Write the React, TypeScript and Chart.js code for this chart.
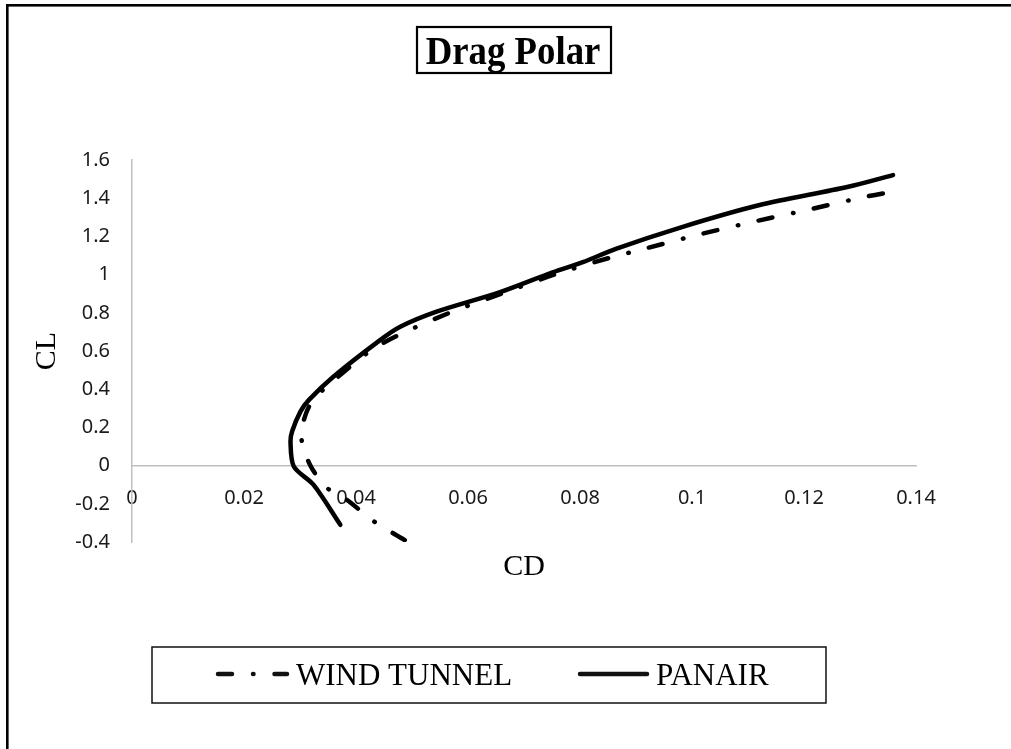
import React, { useEffect, useRef } from "react";
import { Chart, registerables } from "chart.js";
Chart.register(...registerables);

const chartTitle = "Drag Polar";
const xTitle = "CD";
const yTitle = "CL";
const seriesNames = ["WIND TUNNEL", "PANAIR"];

const windCD = [0.0487, 0.0431, 0.0384, 0.0348, 0.0318, 0.0302, 0.031, 0.0324, 0.0362, 0.0425, 0.0473, 0.0567, 0.066, 0.0757, 0.0858, 0.0908, 0.1006, 0.1107, 0.1208, 0.1309, 0.1374];
const windCL = [-0.39, -0.29, -0.18, -0.116, 0.003, 0.153, 0.267, 0.346, 0.45, 0.6, 0.679, 0.8, 0.9, 1.003, 1.092, 1.13, 1.205, 1.275, 1.34, 1.407, 1.442];

const panairCD = [0.0372, 0.0324, 0.0289, 0.0283, 0.0286, 0.0301, 0.0316, 0.0359, 0.0443, 0.0479, 0.0544, 0.0656, 0.0751, 0.0805, 0.0864, 0.0982, 0.1119, 0.1279, 0.1359];
const panairCL = [-0.31, -0.1, -0.005, 0.126, 0.18, 0.284, 0.344, 0.464, 0.657, 0.727, 0.806, 0.907, 1.012, 1.065, 1.135, 1.249, 1.363, 1.46, 1.521];

const xMin = 0, xMax = 0.14, xStep = 0.02;
const yMin = -0.4, yMax = 1.6, yStep = 0.2;

const WIND_DASH = [14, 21, 0.5, 21];
const SERIF = "'Liberation Serif', 'Times New Roman', serif";
const SANS = "'Noto Sans', 'Open Sans', sans-serif";

const decorations = {
  id: "decorations",
  afterDraw(chart: any) {
    const ctx = chart.ctx as CanvasRenderingContext2D;
    const ca = chart.chartArea;
    ctx.save();
    // outer frame
    ctx.fillStyle = "#000";
    ctx.fillRect(6, 4, 1011, 2.6);
    ctx.fillRect(6, 4, 2.6, 749);

    // title box
    ctx.save();
    ctx.font = `bold 40px ${SERIF}`;
    ctx.textAlign = "center";
    ctx.textBaseline = "alphabetic";
    ctx.translate(513, 64);
    ctx.scale(0.92, 1);
    ctx.fillStyle = "#000";
    ctx.fillText(chartTitle, 0, 0);
    ctx.restore();
    ctx.lineWidth = 2.2;
    ctx.strokeStyle = "#000";
    ctx.strokeRect(417, 27, 194, 46);

    // axis titles
    ctx.font = `30px ${SERIF}`;
    ctx.textAlign = "center";
    ctx.textBaseline = "middle";
    ctx.fillText(xTitle, (ca.left + ca.right) / 2, 567);
    ctx.save();
    ctx.translate(47, (ca.top + ca.bottom) / 2);
    ctx.rotate(-Math.PI / 2);
    ctx.fillText(yTitle, 0, 0);
    ctx.restore();

    // legend
    ctx.lineWidth = 1.5;
    ctx.strokeStyle = "#111";
    ctx.strokeRect(152, 647, 674, 56);
    const ly = 674;
    ctx.lineCap = "round";
    ctx.lineWidth = 4.5;
    ctx.setLineDash(WIND_DASH);
    ctx.beginPath();
    ctx.moveTo(218, ly);
    ctx.lineTo(287, ly);
    ctx.stroke();
    ctx.setLineDash([]);
    ctx.beginPath();
    ctx.moveTo(580, ly);
    ctx.lineTo(647, ly);
    ctx.stroke();
    ctx.font = `31px ${SERIF}`;
    ctx.textAlign = "left";
    ctx.textBaseline = "alphabetic";
    ctx.fillText(seriesNames[0], 296, 685);
    ctx.fillText(seriesNames[1], 656, 685);
    ctx.restore();
  },
};

export default function App() {
  const ref = useRef<HTMLCanvasElement | null>(null);
  useEffect(() => {
    document.body.style.margin = "0";
    const canvas = ref.current!;
    const chart = new Chart(canvas, {
      type: "scatter",
      data: {
        datasets: [
          {
            label: seriesNames[0],
            data: windCD.map((x, i) => ({ x, y: windCL[i] })),
            showLine: true,
            borderColor: "#000",
            backgroundColor: "#000",
            borderWidth: 4.5,
            borderDash: WIND_DASH,
            borderCapStyle: "round",
            borderJoinStyle: "round",
            pointRadius: 0,
            tension: 0.3,
          },
          {
            label: seriesNames[1],
            data: panairCD.map((x, i) => ({ x, y: panairCL[i] })),
            showLine: true,
            borderColor: "#000",
            backgroundColor: "#000",
            borderWidth: 4.5,
            borderCapStyle: "round",
            borderJoinStyle: "round",
            pointRadius: 0,
            tension: 0.3,
          },
        ],
      },
      options: {
        animation: false,
        responsive: false,
        devicePixelRatio: 1,
        layout: { padding: { left: 0, top: 160, right: 95, bottom: 207 } },
        plugins: {
          legend: { display: false },
          title: { display: false },
          tooltip: { enabled: false },
        },
        scales: {
          x: {
            type: "linear",
            position: { y: 0 } as any,
            min: xMin,
            max: xMax,
            grid: { display: false, drawTicks: false },
            border: { display: true, color: "#c0c0c0", width: 1.5 },
            ticks: {
              stepSize: xStep,
              padding: 21,
              color: "#1a1a1a",
              font: { family: SANS, size: 20 },
              maxRotation: 0,
              callback: (v: any) => String(Number(Number(v).toFixed(2))),
            },
          },
          y: {
            type: "linear",
            position: "left",
            min: yMin,
            max: yMax,
            grid: { display: false, drawTicks: false },
            border: { display: true, color: "#c0c0c0", width: 1.5 },
            afterFit: (s: any) => {
              s.width = 132;
            },
            ticks: {
              stepSize: yStep,
              padding: 22,
              color: "#1a1a1a",
              font: { family: SANS, size: 20 },
              callback: (v: any) => String(Number(Number(v).toFixed(1))),
            },
          },
        },
      },
      plugins: [decorations],
    });
    return () => chart.destroy();
  }, []);
  return <canvas ref={ref} width={1011} height={749} style={{ display: "block" }} />;
}
